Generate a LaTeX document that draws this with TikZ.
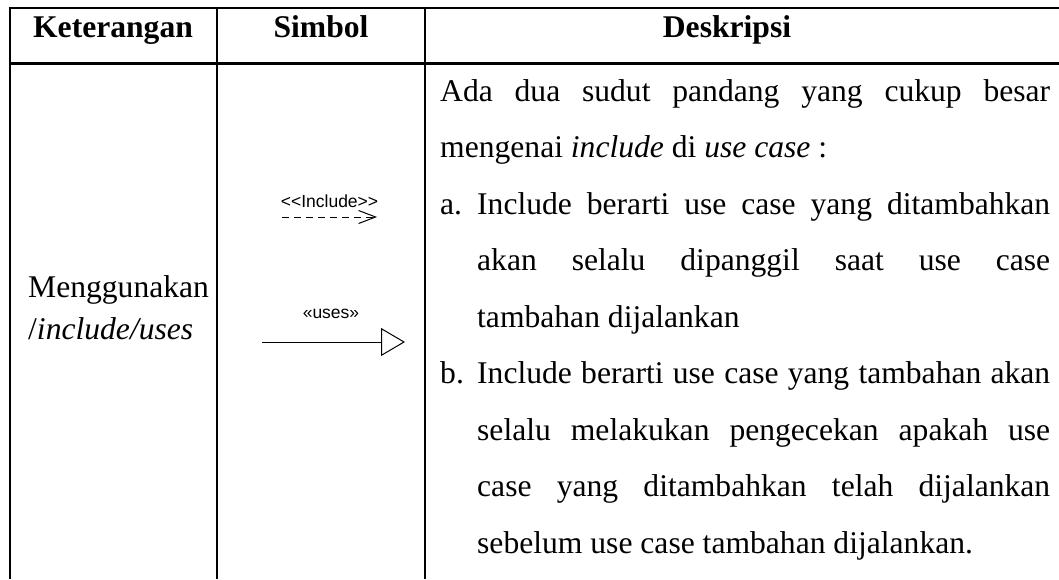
\documentclass[tikz,border=0pt]{standalone}
\usepackage{fontspec}
\setmainfont{Liberation Serif}
\newfontfamily\umlfont{Liberation Sans}
\usetikzlibrary{arrows.meta}

\begin{document}
\begin{tikzpicture}[x=1pt,y=-1pt,
  rule/.style={line width=2.4pt},
  head/.style={font=\fontsize{31.6}{36}\selectfont\bfseries, anchor=base, inner sep=0pt},
  body/.style={font=\fontsize{31.6}{36}\selectfont, anchor=base west, inner sep=0pt},
  stereo/.style={font=\umlfont\fontsize{17.5}{20}\selectfont, anchor=base, inner sep=0pt},
  conn/.style={line width=1pt}]
\useasboundingbox (0,0) rectangle (1059,579);

% table rules
\draw[rule] (10,579) -- (10,8) -- (1059,8);
\draw[rule] (10,63.5) -- (1059,63.5);
\draw[rule] (217,8) -- (217,579);
\draw[rule] (425,8) -- (425,579);

% header row
\node[head] (hKet) at (113,37.5) {Keterangan};
\node[head] (hSim) at (321,37.5) {Simbol};
\node[head] (hDes) at (727,37.5) {Deskripsi};

% first column
\node[body] (ket1) at (28,297) {Menggunakan};
\node[body] (ket2) at (28,339) {/\textit{include/uses}};

% symbols
\node[stereo] (incLbl) at (329.5,207) {<\kern0pt<Include>\kern0pt>};
\coordinate (incA) at (282,217);
\coordinate (incB) at (377,217);
\draw[conn, dash pattern=on 7pt off 5pt, -{Straight Barb[length=17pt,width=13pt]}] (incA) -- (incB);

\node[stereo] (useLbl) at (331,318) {«uses»};
\coordinate (useA) at (262,342);
\coordinate (useB) at (405,342);
\draw[conn, -{Triangle[open,length=24pt,width=28pt]}] (useA) -- (useB);

% description
\node[body] (d1) at (440,101) {\makebox[610pt][s]{Ada dua sudut pandang yang cukup besar}};
\node[body] (d2) at (440,157.5) {mengenai \textit{include} di \textit{use case} :};
\node[body] (d3a) at (440,214) {a.};
\node[body] (d3) at (477,214) {\makebox[573pt][s]{Include berarti use case yang ditambahkan}};
\node[body] (d4) at (477,270.5) {\makebox[573pt][s]{akan selalu dipanggil saat use case}};
\node[body] (d5) at (477,327) {tambahan dijalankan};
\node[body] (d6a) at (440,383.5) {b.};
\node[body] (d6) at (477,383.5) {\makebox[573pt][s]{Include berarti use case yang tambahan akan}};
\node[body] (d7) at (477,440) {\makebox[573pt][s]{selalu melakukan pengecekan apakah use}};
\node[body] (d8) at (477,496.5) {\makebox[573pt][s]{case yang ditambahkan telah dijalankan}};
\node[body] (d9) at (477,553) {sebelum use case tambahan dijalankan.};
\end{tikzpicture}
\end{document}
